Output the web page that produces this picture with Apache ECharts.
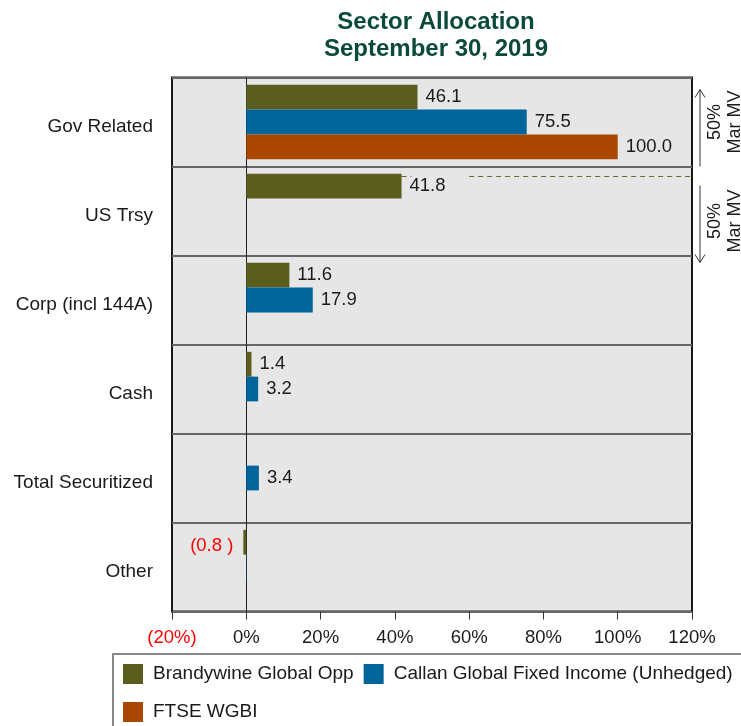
<!DOCTYPE html>
<html>
<head>
<meta charset="utf-8">
<script src="https://cdn.jsdelivr.net/npm/echarts@6/dist/echarts.min.js"></script>
<style>
html,body{margin:0;padding:0;background:#fff;}
#chart{width:741px;height:726px;}
</style>
</head>
<body>
<div id="chart"></div>
<script>
const categories = ['Gov Related', 'US Trsy', 'Corp (incl 144A)', 'Cash', 'Total Securitized', 'Other'];
const seriesNames = ['Brandywine Global Opp', 'Callan Global Fixed Income (Unhedged)', 'FTSE WGBI'];
const brandywine = [46.1, 41.8, 11.6, 1.4, null, -0.8];
const callan = [75.5, null, 17.9, 3.2, 3.4, 0.1];
const ftse = [100.0, null, null, null, null, null];
const xTicks = [-20, 0, 20, 40, 60, 80, 100, 120];
const colors = ['#5b5d1f', '#00659b', '#a94600'];

const FONT = '"Liberation Sans", Arial, sans-serif';

function toData(arr) {
  return arr.map(v => {
    if (v === null) return '-';
    if (v < 0) return {value: v, label: {position: 'left', color: '#ff0000', distance: 10, offset: [0, 4]}};
    if (Math.abs(v) < 0.5) return {value: v, label: {show: false}};
    return v;
  });
}

const labelCfg = {
  show: true,
  position: 'right',
  distance: 8,
  color: '#1a1a1a',
  fontSize: 18.5,
  fontFamily: FONT,
  formatter: p => p.value < 0 ? '(' + Math.abs(p.value).toFixed(1) + ' )' : Number(p.value).toFixed(1)
};

const seriesData = [brandywine, callan, ftse];
const series = seriesData.map((arr, i) => ({
  name: seriesNames[i],
  type: 'bar',
  data: toData(arr),
  barGap: '0%',
  barCategoryGap: '16.5%',
  itemStyle: {color: colors[i]},
  label: labelCfg,
  z: 3
}));
series[0].markLine = {
  silent: true,
  symbol: 'none',
  label: {show: false},
  lineStyle: {color: '#222', width: 1, type: 'solid'},
  data: [{xAxis: 0}],
  z: 2
};

const chart = echarts.init(document.getElementById('chart'), null, {renderer: 'canvas'});
chart.setOption({
  animation: false,
  backgroundColor: '#ffffff',
  title: {
    text: 'Sector Allocation\nSeptember 30, 2019',
    left: 431,
    textAlign: 'center',
    top: 4,
    textStyle: {color: '#0a4a3b', fontSize: 24, fontWeight: 'bold', fontFamily: FONT, lineHeight: 27}
  },
  legend: {
    data: seriesNames,
    left: 123,
    top: 660,
    right: 0,
    padding: 0,
    itemWidth: 20,
    itemHeight: 20,
    itemGap: 10,
    icon: 'rect',
    textStyle: {fontSize: 19, color: '#1a1a1a', fontFamily: FONT, lineHeight: 28, padding: [0, 0, 0, 5]}
  },
  grid: {
    left: 172, right: 49, top: 77.5, bottom: 114.5,
    show: true,
    backgroundColor: '#e6e6e6',
    borderColor: '#1a1a1a',
    borderWidth: 2
  },
  xAxis: {
    type: 'value',
    min: xTicks[0],
    max: xTicks[xTicks.length - 1],
    interval: 20,
    axisLine: {show: false},
    axisTick: {show: true, inside: false, length: 8, lineStyle: {color: '#333', width: 1}},
    splitLine: {show: false},
    axisLabel: {
      margin: 17,
      fontSize: 18.5,
      fontFamily: FONT,
      color: '#1a1a1a',
      formatter: v => v < 0 ? '{neg|(' + Math.abs(v) + '%)}' : v + '%',
      rich: {neg: {color: '#ff0000', fontSize: 18.5, fontFamily: FONT}}
    }
  },
  yAxis: {
    type: 'category',
    data: categories,
    inverse: true,
    axisLine: {show: false},
    axisTick: {show: false},
    splitLine: {show: true, lineStyle: {color: '#666', width: 2}},
    axisLabel: {
      margin: 19,
      color: '#1a1a1a',
      formatter: v => '{c|' + v + '}',
      rich: {c: {fontSize: 19, fontFamily: FONT, color: '#1a1a1a', padding: [10, 0, 0, 0]}}
    }
  },
  series: series
});

// annotations
function px(x, cat) { return chart.convertToPixel({gridIndex: 0}, [x, cat]); }
const g = [];
const pTrsy = px(0, 'US Trsy');
const pGov = px(0, 'Gov Related');
const pRight = px(120, 'US Trsy')[0];
const catH = pTrsy[1] - pGov[1];
const dashY = pTrsy[1] - catH / 2 + 10;
const barEnd = px(brandywine[1], 'US Trsy')[0];
const dashStart = px(60, 'US Trsy')[0];
g.push({type: 'line', shape: {x1: barEnd, y1: dashY, x2: barEnd + 10, y2: dashY}, style: {stroke: '#6b6b2a', lineWidth: 1, lineDash: [5, 4]}, z: 10});
g.push({type: 'line', shape: {x1: dashStart, y1: dashY, x2: pRight, y2: dashY}, style: {stroke: '#6b6b2a', lineWidth: 1, lineDash: [5, 4]}, z: 10});

const ax = pRight + 8;
const sep1 = pGov[1] + catH / 2;
const arrowStyle = {stroke: '#333', lineWidth: 1, fill: null};
// arrow 1 (tip up)
g.push({type: 'line', shape: {x1: ax, y1: pGov[1] - catH / 2 + 12, x2: ax, y2: sep1}, style: arrowStyle});
g.push({type: 'polyline', shape: {points: [[ax - 5, pGov[1] - catH / 2 + 20], [ax, pGov[1] - catH / 2 + 12], [ax + 5, pGov[1] - catH / 2 + 20]]}, style: arrowStyle});
// arrow 2 (tip down)
const a2top = sep1 + 19, a2tip = pTrsy[1] + catH / 2 + 7;
g.push({type: 'line', shape: {x1: ax, y1: a2top, x2: ax, y2: a2tip}, style: arrowStyle});
g.push({type: 'polyline', shape: {points: [[ax - 5, a2tip - 8], [ax, a2tip], [ax + 5, a2tip - 8]]}, style: arrowStyle});

const txtStyle = {text: '50%\nMar MV', fill: '#1a1a1a', font: '18px ' + FONT, align: 'center', verticalAlign: 'middle', lineHeight: 20};
g.push({type: 'text', x: ax + 25, y: pGov[1], rotation: Math.PI / 2, style: txtStyle});
g.push({type: 'text', x: ax + 25, y: pTrsy[1] + 10, rotation: Math.PI / 2, style: txtStyle});

// legend frame
g.push({type: 'polyline', shape: {points: [[113, 740], [113, 654], [745, 654]]}, style: {stroke: '#888', lineWidth: 2, fill: null}});

chart.setOption({graphic: g});
</script>
</body>
</html>
